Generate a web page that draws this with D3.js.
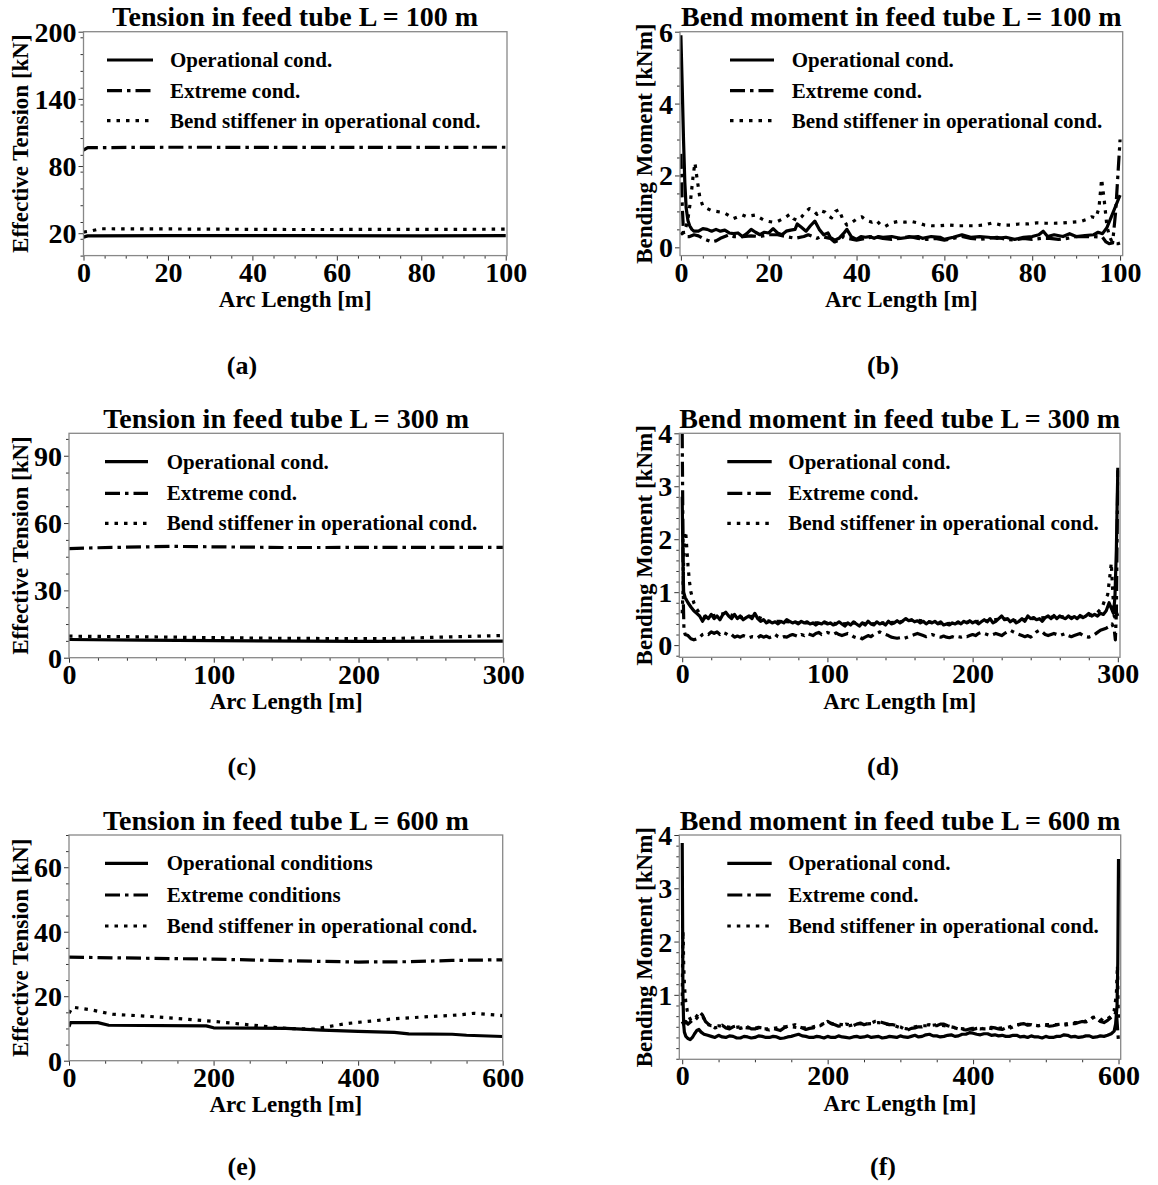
<!DOCTYPE html>
<html>
<head>
<meta charset="utf-8">
<script src="https://cdn.jsdelivr.net/npm/d3@7"></script>
<style>
  html, body { margin: 0; padding: 0; background: #fff; }
  svg { display: block; }
  text { font-family: "Liberation Serif", "Times New Roman", serif; font-weight: bold; fill: #000; }
</style>
</head>
<body>
<svg id="fig" width="1158" height="1185"></svg>
<script>
// ---------------- Tick labels ----------------
const arcTicks100 = [0, 20, 40, 60, 80, 100];
const arcTicks300 = [0, 100, 200, 300];
const arcTicks600 = [0, 200, 400, 600];
const tensionTicks100 = [20, 80, 140, 200];
const tensionTicks300 = [0, 30, 60, 90];
const tensionTicks600 = [0, 20, 40, 60];
const momentTicks100 = [0, 2, 4, 6];
const momentTicks300 = [0, 1, 2, 3, 4];
const momentTicks600 = [1, 2, 3, 4];

// ---------------- Legend entries ----------------
const legendShort = ["Operational cond.", "Extreme cond.", "Bend stiffener in operational cond."];
const legendLong = ["Operational conditions", "Extreme conditions", "Bend stiffener in operational cond."];

// ---------------- Effective tension, L = 100 m  [arc length m, kN] ----------------
const tension100Operational = [[0,16.5],[1,17.6],[20,17.9],[50,17.8],[80,17.7],[100,17.8]];
const tension100Extreme = [[0,94.3],[1,96.4],[20,96.8],[50,96.7],[80,96.7],[100,96.8]];
const tension100Stiffener = [[0,21],[2,22.2],[4,24],[20,23.8],[50,23.3],[80,23.4],[100,23.6]];

// ---------------- Effective tension, L = 300 m ----------------
const tension300Operational = [[0,8.1],[50,7.8],[100,7.6],[200,7.3],[300,7.4]];
const tension300Extreme = [[0,48.6],[20,49.0],[70,49.6],[150,49.1],[300,49.2]];
const tension300Stiffener = [[0,9.6],[50,9.3],[150,8.6],[220,8.5],[300,9.9]];

// ---------------- Effective tension, L = 600 m ----------------
const tension600Operational = [[0,10.5],[2,11.8],[40,11.8],[55,11.0],[190,10.8],[200,10.2],[300,10.0],[350,9.5],[400,9.1],[450,8.8],[470,8.3],[530,8.2],[550,7.9],[600,7.5]];
const tension600Extreme = [[0,32.1],[100,31.8],[200,31.5],[300,31.0],[400,30.6],[470,30.7],[530,31.1],[600,31.3]];
const tension600Stiffener = [[0,14.7],[5,16.6],[30,15.8],[60,14.4],[100,13.9],[150,13.1],[200,12.2],[250,11.1],[300,10.0],[340,9.8],[380,11.4],[400,11.9],[450,13.0],[500,13.7],[540,14.2],[560,14.7],[600,14.0]];

// ---------------- Bending moment, L = 100 m  [arc length m, kNm] ----------------
const moment100Operational = [[0,5.9],[0.3,4.5],[0.6,3.0],[0.9,1.8],[1.2,1.1],[1.6,0.75],[2,0.6],[2.5,0.5],[3,0.45],[4,0.45],[5,0.52],[6,0.5],[7,0.45],[8,0.5],[9,0.45],[10,0.48],[11,0.4],[12,0.38],[13,0.4],[14,0.3],[15,0.38],[16,0.5],[17,0.42],[18,0.35],[19,0.42],[20,0.4],[21,0.52],[22,0.4],[23,0.35],[24,0.45],[25,0.48],[26,0.5],[26.5,0.65],[27.5,0.55],[28.5,0.45],[29.5,0.6],[30.5,0.73],[31.5,0.5],[32.5,0.35],[33.5,0.4],[34,0.28],[35,0.2],[36,0.25],[37,0.38],[37.8,0.5],[38.8,0.3],[40,0.22],[41,0.3],[42,0.28],[43,0.3],[44,0.25],[45,0.3],[46,0.28],[48,0.3],[50,0.25],[52,0.28],[54,0.3],[55,0.25],[57,0.3],[59,0.28],[60,0.22],[62,0.28],[64,0.35],[66,0.28],[68,0.3],[70,0.28],[72,0.25],[74,0.28],[76,0.22],[78,0.28],[80,0.3],[81.5,0.35],[82.5,0.45],[83.5,0.3],[85,0.35],[87,0.3],[88.5,0.38],[90,0.3],[92,0.33],[94,0.35],[95,0.42],[96,0.38],[97,0.55],[98,0.85],[99,1.15],[100,1.45]];
const moment100Extreme = [[0,2.6],[0.3,1.2],[0.6,0.4],[1,0.3],[2,0.3],[3,0.35],[4,0.32],[5,0.25],[6,0.2],[7,0.15],[8,0.18],[9,0.25],[10,0.3],[11,0.35],[12,0.3],[14,0.3],[16,0.32],[18,0.3],[20,0.35],[22,0.35],[24,0.3],[26,0.25],[28,0.3],[29,0.35],[30,0.3],[31,0.25],[32,0.3],[34,0.25],[35,0.15],[36,0.2],[37,0.3],[38,0.25],[40,0.2],[42,0.25],[44,0.3],[46,0.25],[48,0.22],[50,0.25],[52,0.3],[54,0.25],[56,0.22],[58,0.25],[60,0.2],[62,0.25],[64,0.3],[66,0.25],[68,0.22],[70,0.25],[72,0.28],[74,0.22],[76,0.2],[78,0.25],[80,0.22],[82,0.25],[84,0.25],[86,0.22],[88,0.25],[90,0.3],[92,0.3],[94,0.3],[96,0.28],[96.8,0.15],[97.5,0.1],[98.3,0.12],[99,1.0],[99.5,2.0],[100,3.0]];
const moment100Stiffener = [[0,0.35],[0.8,0.45],[1.5,0.7],[2.2,1.3],[2.8,2.0],[3.2,2.35],[3.7,1.9],[4.3,1.4],[5,1.15],[6,1.08],[7,1.02],[8,1.0],[9,0.98],[10,0.95],[11,0.88],[12,0.8],[13,0.85],[14,0.9],[15,0.85],[16,0.88],[17,0.9],[18,0.82],[19,0.75],[20,0.72],[21,0.7],[22,0.72],[23,0.78],[24,0.85],[24.8,0.92],[25.6,0.8],[26.5,0.75],[27.5,0.85],[28.5,1.0],[29.3,1.08],[30.3,1.0],[31,0.92],[31.8,1.02],[32.8,0.98],[33.5,0.88],[34.3,0.82],[35.2,1.0],[36,1.05],[36.8,0.8],[37.8,0.62],[39,0.7],[40.2,0.8],[41.2,0.85],[42.2,0.75],[43.5,0.7],[44.5,0.75],[45.5,0.62],[46.5,0.58],[48,0.68],[49.5,0.72],[51,0.7],[52.5,0.72],[54,0.68],[55.5,0.62],[57,0.6],[59,0.6],[61,0.62],[63,0.6],[65,0.6],[67,0.6],[69,0.62],[71,0.68],[73,0.62],[75,0.62],[77,0.65],[79,0.65],[81,0.68],[83,0.67],[85,0.67],[87,0.68],[89,0.7],[91,0.72],[92.5,0.78],[93.5,0.85],[94.5,0.82],[95.2,1.1],[95.8,1.9],[96.4,1.3],[97,0.6],[97.6,0.3],[98.3,0.12],[99,0.1],[99.5,0.1],[100,0.12]];

// ---------------- Bending moment, L = 300 m ----------------
const moment300Operational = [[0,2.8],[0.5,1.6],[1,1.0],[2,0.9],[4,0.8],[6,0.72],[8,0.65],[10,0.6],[12,0.55],[14,0.45],[16,0.55],[18,0.5],[20,0.58],[22,0.5],[24,0.55],[26,0.48],[28,0.58],[30,0.62],[32,0.55],[34,0.5],[36,0.58],[38,0.5],[40,0.55],[42,0.48],[44,0.52],[46,0.55],[48,0.5],[50,0.6],[52,0.5],[54,0.45],[56,0.48],[58,0.42],[60,0.45],[62,0.42],[64,0.44],[66,0.4],[68,0.45],[70,0.42],[72,0.48],[74,0.45],[76,0.42],[78,0.44],[80,0.4],[82,0.45],[84,0.42],[86,0.44],[88,0.4],[90,0.42],[92,0.38],[94,0.42],[96,0.4],[98,0.44],[100,0.4],[102,0.42],[104,0.38],[106,0.4],[108,0.44],[110,0.4],[112,0.36],[114,0.42],[116,0.38],[118,0.44],[120,0.4],[122,0.36],[124,0.42],[126,0.38],[128,0.45],[130,0.4],[132,0.38],[134,0.44],[136,0.4],[138,0.42],[140,0.38],[142,0.45],[144,0.4],[146,0.42],[148,0.46],[150,0.42],[152,0.46],[154,0.5],[156,0.46],[158,0.48],[160,0.44],[162,0.46],[164,0.42],[166,0.45],[168,0.4],[170,0.44],[172,0.42],[174,0.45],[176,0.4],[178,0.44],[180,0.38],[182,0.4],[184,0.38],[186,0.42],[188,0.4],[190,0.44],[192,0.4],[194,0.45],[196,0.42],[198,0.46],[200,0.42],[202,0.45],[204,0.4],[206,0.44],[208,0.48],[210,0.44],[212,0.5],[214,0.42],[216,0.45],[218,0.5],[220,0.55],[222,0.48],[224,0.5],[226,0.44],[228,0.48],[230,0.42],[232,0.45],[234,0.5],[236,0.45],[238,0.55],[240,0.5],[242,0.52],[244,0.48],[246,0.5],[248,0.45],[250,0.52],[252,0.55],[254,0.5],[256,0.56],[258,0.5],[260,0.55],[262,0.52],[264,0.5],[266,0.55],[268,0.5],[270,0.54],[272,0.5],[274,0.56],[276,0.52],[278,0.55],[280,0.6],[282,0.55],[284,0.58],[286,0.55],[288,0.6],[290,0.58],[292,0.65],[294,0.8],[295.5,0.7],[297,0.6],[298,0.9],[299,1.8],[299.5,2.6],[300,3.3]];
const moment300Extreme = [[0,4.0],[0.4,2.5],[0.8,0.8],[1.2,0.3],[2,0.2],[4,0.18],[6,0.12],[8,0.1],[10,0.12],[12,0.15],[14,0.2],[16,0.22],[18,0.2],[20,0.25],[22,0.22],[24,0.25],[26,0.2],[28,0.24],[30,0.22],[32,0.18],[34,0.2],[36,0.15],[38,0.17],[40,0.15],[42,0.18],[44,0.16],[46,0.14],[48,0.16],[50,0.15],[52,0.14],[54,0.18],[56,0.15],[58,0.17],[60,0.14],[62,0.16],[64,0.2],[66,0.16],[68,0.14],[70,0.16],[72,0.15],[74,0.18],[76,0.2],[78,0.18],[80,0.16],[82,0.2],[84,0.18],[86,0.22],[88,0.2],[90,0.18],[92,0.22],[94,0.24],[96,0.2],[98,0.22],[100,0.24],[102,0.22],[104,0.2],[106,0.23],[108,0.2],[110,0.18],[112,0.2],[114,0.22],[116,0.2],[118,0.16],[120,0.14],[122,0.15],[124,0.12],[126,0.15],[128,0.18],[130,0.16],[132,0.2],[134,0.22],[136,0.25],[138,0.22],[140,0.2],[142,0.18],[144,0.15],[146,0.14],[148,0.13],[150,0.14],[152,0.12],[154,0.14],[156,0.16],[158,0.18],[160,0.2],[162,0.22],[164,0.2],[166,0.18],[168,0.16],[170,0.18],[172,0.2],[174,0.18],[176,0.16],[178,0.15],[180,0.17],[182,0.15],[184,0.14],[186,0.16],[188,0.14],[190,0.16],[192,0.15],[194,0.17],[196,0.16],[198,0.18],[200,0.2],[202,0.18],[204,0.22],[206,0.24],[208,0.22],[210,0.2],[212,0.18],[214,0.2],[216,0.22],[218,0.2],[220,0.18],[222,0.22],[224,0.25],[226,0.28],[228,0.25],[230,0.22],[232,0.2],[234,0.18],[236,0.16],[238,0.18],[240,0.15],[242,0.2],[244,0.25],[246,0.28],[248,0.25],[250,0.2],[252,0.18],[254,0.2],[256,0.22],[258,0.2],[260,0.18],[262,0.2],[264,0.22],[266,0.18],[268,0.16],[270,0.18],[272,0.2],[274,0.22],[276,0.18],[278,0.16],[280,0.15],[282,0.17],[284,0.2],[286,0.24],[288,0.28],[290,0.3],[292,0.32],[294,0.35],[296,0.4],[297.5,0.3],[298.3,0.1],[299,0.6],[299.5,2.0],[300,3.35]];
const moment300Stiffener = [[0,0.6],[0.5,1.0],[1,1.6],[1.5,2.05],[2,2.15],[2.5,2.1],[3,1.9],[4,1.5],[5,1.2],[6,1.0],[7,0.9],[8,0.8],[10,0.68],[12,0.6],[14,0.55],[16,0.52],[20,0.55],[30,0.6],[40,0.52],[50,0.55],[60,0.45],[70,0.45],[80,0.42],[90,0.42],[100,0.42],[110,0.4],[120,0.42],[130,0.4],[140,0.42],[150,0.44],[160,0.48],[170,0.44],[180,0.4],[190,0.42],[200,0.44],[210,0.46],[220,0.5],[230,0.46],[240,0.5],[250,0.52],[260,0.54],[270,0.52],[280,0.56],[286,0.62],[289,0.7],[291,0.85],[293,0.95],[294.5,1.3],[295.5,1.55],[296.5,1.0],[297.5,0.55],[298.5,0.5],[299.3,0.6],[300,0.55]];

// ---------------- Bending moment, L = 600 m ----------------
const moment600Operational = [[0,3.85],[0.5,2.5],[1,1.0],[2,0.45],[3,0.3],[5,0.22],[8,0.18],[11,0.16],[14,0.2],[17,0.27],[20,0.33],[23,0.35],[26,0.3],[30,0.26],[35,0.24],[40,0.22],[45,0.2],[50,0.24],[55,0.21],[60,0.2],[65,0.23],[70,0.22],[75,0.19],[80,0.19],[85,0.22],[90,0.21],[95,0.19],[100,0.2],[105,0.23],[110,0.22],[115,0.2],[120,0.2],[125,0.22],[130,0.21],[135,0.18],[140,0.19],[145,0.21],[150,0.22],[155,0.24],[160,0.26],[165,0.23],[170,0.22],[175,0.2],[180,0.2],[185,0.22],[190,0.21],[195,0.19],[200,0.22],[205,0.2],[210,0.2],[215,0.23],[220,0.21],[225,0.2],[230,0.19],[235,0.21],[240,0.22],[245,0.2],[250,0.21],[255,0.23],[260,0.2],[265,0.21],[270,0.22],[275,0.19],[280,0.2],[285,0.22],[290,0.21],[295,0.2],[300,0.23],[305,0.21],[310,0.2],[315,0.22],[320,0.24],[325,0.21],[330,0.22],[335,0.25],[340,0.26],[345,0.23],[350,0.23],[355,0.21],[360,0.22],[365,0.24],[370,0.25],[375,0.22],[380,0.23],[385,0.26],[390,0.26],[395,0.29],[400,0.28],[405,0.26],[410,0.25],[415,0.27],[420,0.27],[425,0.24],[430,0.25],[435,0.23],[440,0.24],[445,0.22],[450,0.22],[455,0.24],[460,0.24],[465,0.21],[470,0.22],[475,0.2],[480,0.23],[485,0.21],[490,0.21],[495,0.19],[500,0.22],[505,0.2],[510,0.2],[515,0.22],[520,0.22],[525,0.25],[530,0.24],[535,0.21],[540,0.22],[545,0.2],[550,0.21],[555,0.23],[560,0.23],[565,0.2],[570,0.21],[575,0.23],[580,0.22],[585,0.24],[590,0.27],[594,0.32],[596,0.45],[598,0.8],[599,1.6],[599.5,2.6],[600,3.55]];
const moment600Extreme = [[0,0.5],[2,0.45],[5,0.5],[8,0.45],[12,0.5],[16,0.55],[20,0.6],[24,0.68],[28,0.62],[32,0.5],[36,0.45],[40,0.42],[45,0.38],[50,0.4],[55,0.43],[60,0.38],[65,0.36],[70,0.4],[75,0.42],[80,0.37],[85,0.39],[90,0.4],[95,0.36],[100,0.36],[105,0.39],[110,0.38],[115,0.35],[120,0.34],[125,0.37],[130,0.35],[135,0.33],[140,0.38],[145,0.41],[150,0.42],[155,0.44],[160,0.4],[165,0.38],[170,0.35],[175,0.37],[180,0.38],[185,0.4],[190,0.42],[195,0.46],[200,0.5],[205,0.46],[210,0.44],[215,0.41],[220,0.42],[225,0.45],[230,0.44],[235,0.42],[240,0.45],[245,0.47],[250,0.44],[255,0.46],[260,0.47],[265,0.5],[270,0.5],[275,0.48],[280,0.46],[285,0.44],[290,0.44],[295,0.42],[300,0.4],[305,0.36],[310,0.34],[315,0.37],[320,0.38],[325,0.4],[330,0.4],[335,0.43],[340,0.44],[345,0.42],[350,0.42],[355,0.45],[360,0.45],[365,0.42],[370,0.4],[375,0.38],[380,0.36],[385,0.35],[390,0.34],[395,0.36],[400,0.35],[405,0.37],[410,0.38],[415,0.36],[420,0.36],[425,0.39],[430,0.38],[435,0.36],[440,0.35],[445,0.38],[450,0.37],[455,0.4],[460,0.42],[465,0.45],[470,0.46],[475,0.43],[480,0.44],[485,0.42],[490,0.42],[495,0.44],[500,0.43],[505,0.41],[510,0.42],[515,0.44],[520,0.45],[525,0.43],[530,0.44],[535,0.46],[540,0.46],[545,0.48],[550,0.5],[555,0.49],[560,0.52],[565,0.58],[570,0.55],[575,0.5],[580,0.48],[585,0.52],[590,0.58],[594,0.6],[597,0.7],[599,0.3],[600,0.12]];
const moment600Stiffener = [[0,0.8],[0.5,1.6],[1,2.2],[1.5,2.0],[2,1.6],[3,1.2],[4,1.0],[5,0.85],[7,0.7],[9,0.6],[12,0.52],[16,0.5],[20,0.56],[24,0.62],[28,0.6],[32,0.5],[36,0.44],[40,0.42],[50,0.42],[60,0.4],[70,0.38],[80,0.4],[90,0.38],[100,0.38],[110,0.36],[120,0.36],[130,0.38],[140,0.4],[150,0.4],[160,0.38],[170,0.38],[180,0.4],[190,0.44],[200,0.48],[210,0.45],[220,0.44],[230,0.42],[240,0.46],[250,0.45],[260,0.46],[270,0.48],[280,0.45],[290,0.43],[300,0.38],[310,0.36],[320,0.4],[330,0.42],[340,0.42],[350,0.44],[360,0.42],[370,0.4],[380,0.37],[390,0.36],[400,0.37],[410,0.36],[420,0.38],[430,0.36],[440,0.38],[450,0.4],[460,0.44],[470,0.45],[480,0.44],[490,0.42],[500,0.44],[510,0.44],[520,0.44],[530,0.46],[540,0.48],[550,0.48],[560,0.54],[570,0.6],[575,0.55],[580,0.5],[585,0.55],[590,0.6],[594,0.7],[597,1.0],[598.5,1.55],[599.5,0.8],[600,0.5]];

// ---------------- Line styles shared by every panel ----------------
const seriesStyles = [
  { dash: null },            // operational: solid
  { dash: "15,5,3.5,5" },    // extreme: dash-dot
  { dash: "3.5,6" }          // bend stiffener: dotted
];

// ---------------- Panel layout ----------------
const panels = [
  { title: "Tension in feed tube L = 100 m", yLabel: "Effective Tension [kN]", legend: legendShort,
    series: [tension100Operational, tension100Extreme, tension100Stiffener],
    xDomain: [0, 100.3], yDomain: [0, 200], xTicks: arcTicks100, yTicks: tensionTicks100, xMinor: 5, yMinor: 15,
    l: 83.5, r: 507, t: 31.7, b: 255.6, yLabelX: 28, legX1: 107, legX2: 153, legTx: 170, legY: [60, 90.7, 120.7],
    caption: "(a)", capX: 242, capY: 374 },
  { title: "Bend moment in feed tube L = 100 m", yLabel: "Bending Moment [kNm]", legend: legendShort,
    series: [moment100Operational, moment100Extreme, moment100Stiffener],
    xDomain: [-0.2, 100.6], yDomain: [-0.23, 6.0], xTicks: arcTicks100, yTicks: momentTicks100, xMinor: 5, yMinor: 0.5,
    l: 680, r: 1122.7, t: 31.7, b: 255.6, yLabelX: 652, legX1: 730, legX2: 774, legTx: 791.7, legY: [60, 90.7, 120.7],
    caption: "(b)", capX: 883, capY: 374 },
  { title: "Tension in feed tube L = 300 m", yLabel: "Effective Tension [kN]", legend: legendShort,
    series: [tension300Operational, tension300Extreme, tension300Stiffener],
    xDomain: [0, 300], yDomain: [0, 100], xTicks: arcTicks300, yTicks: tensionTicks300, xMinor: 20, yMinor: 7.5,
    l: 69, r: 503.3, t: 433.3, b: 657.7, yLabelX: 28, legX1: 105, legX2: 148, legTx: 166.7, legY: [461.7, 493.3, 523.3],
    caption: "(c)", capX: 242, capY: 775 },
  { title: "Bend moment in feed tube L = 300 m", yLabel: "Bending Moment [kNm]", legend: legendShort,
    series: [moment300Operational, moment300Extreme, moment300Stiffener],
    xDomain: [-2, 301.5], yDomain: [-0.23, 4.0], xTicks: arcTicks300, yTicks: momentTicks300, xMinor: 20, yMinor: 0.2,
    l: 679.3, r: 1120, t: 433.3, b: 657.3, yLabelX: 652, legX1: 727.3, legX2: 771.7, legTx: 788.3, legY: [461.7, 493.3, 523.3],
    caption: "(d)", capX: 883, capY: 775 },
  { title: "Tension in feed tube L = 600 m", yLabel: "Effective Tension [kN]", legend: legendLong,
    series: [tension600Operational, tension600Extreme, tension600Stiffener],
    xDomain: [0, 600], yDomain: [0, 70], xTicks: arcTicks600, yTicks: tensionTicks600, xMinor: 50, yMinor: 5,
    l: 69, r: 502.7, t: 835, b: 1060.7, yLabelX: 28, legX1: 105, legX2: 148, legTx: 166.7, legY: [863.3, 895, 926],
    caption: "(e)", capX: 242, capY: 1175 },
  { title: "Bend moment in feed tube L = 600 m", yLabel: "Bending Moment [kNm]", legend: legendShort,
    series: [moment600Operational, moment600Extreme, moment600Stiffener],
    xDomain: [-4, 603], yDomain: [-0.21, 4.0], xTicks: arcTicks600, yTicks: momentTicks600, xMinor: 50, yMinor: 0.2,
    l: 679.3, r: 1120.7, t: 835, b: 1059.3, yLabelX: 652, legX1: 727.3, legX2: 771.7, legTx: 788.3, legY: [863.3, 895, 926],
    caption: "(f)", capX: 883, capY: 1175 }
];

const svg = d3.select("#fig");
const LW = 3.2;

// minor tick positions: every multiple of step inside the domain, skipping the majors
function minorValues(domain, step, majors) {
  const out = [];
  const k0 = Math.ceil(domain[0] / step - 1e-9), k1 = Math.floor(domain[1] / step + 1e-9);
  for (let k = k0; k <= k1; k++) {
    const v = +(k * step).toFixed(6);
    if (!majors.some(m => Math.abs(m - v) < step * 1e-3)) out.push(v);
  }
  return out;
}

panels.forEach((p, i) => {
  const x = d3.scaleLinear().domain(p.xDomain).range([p.l, p.r]);
  const y = d3.scaleLinear().domain(p.yDomain).range([p.b, p.t]);
  const g = svg.append("g");

  const clipId = "clip" + i;
  svg.append("clipPath").attr("id", clipId)
    .append("rect").attr("x", p.l).attr("y", p.t).attr("width", p.r - p.l).attr("height", p.b - p.t);

  // data curves
  const line = d3.line().x(d => x(d[0])).y(d => y(d[1]));
  const curves = g.append("g").attr("clip-path", `url(#${clipId})`);
  p.series.forEach((s, si) => {
    curves.append("path").datum(s)
      .attr("d", line)
      .attr("fill", "none")
      .attr("stroke", "#000")
      .attr("stroke-width", LW)
      .attr("stroke-linejoin", "round")
      .attr("stroke-dasharray", seriesStyles[si].dash);
  });

  // axes: outward major ticks with labels, minor ticks without
  const xAxis = d3.axisBottom(x).tickValues(p.xTicks).tickSize(5).tickPadding(2).tickFormat(d3.format("d"));
  const xAxisMinor = d3.axisBottom(x).tickValues(minorValues(p.xDomain, p.xMinor, p.xTicks)).tickSize(3).tickFormat("");
  const yAxis = d3.axisLeft(y).tickValues(p.yTicks).tickSize(5).tickPadding(2).tickFormat(d3.format("d"));
  const yAxisMinor = d3.axisLeft(y).tickValues(minorValues(p.yDomain, p.yMinor, p.yTicks)).tickSize(3).tickFormat("");

  [xAxisMinor, xAxis].forEach(ax => {
    const a = g.append("g").attr("transform", `translate(0,${p.b})`).call(ax);
    a.select(".domain").remove();
    a.selectAll(".tick line").attr("stroke", "#333").attr("stroke-width", 1);
    a.selectAll(".tick text").attr("font-size", 28).attr("font-family", "Liberation Serif, serif")
      .attr("font-weight", "bold").attr("fill", "#000").attr("dy", "0.68em");
  });
  [yAxisMinor, yAxis].forEach(ax => {
    const a = g.append("g").attr("transform", `translate(${p.l},0)`).call(ax);
    a.select(".domain").remove();
    a.selectAll(".tick line").attr("stroke", "#333").attr("stroke-width", 1);
    a.selectAll(".tick text").attr("font-size", 28).attr("font-family", "Liberation Serif, serif")
      .attr("font-weight", "bold").attr("fill", "#000").attr("dy", "0.34em");
  });

  // frame
  g.append("rect").attr("x", p.l).attr("y", p.t).attr("width", p.r - p.l).attr("height", p.b - p.t)
    .attr("fill", "none").attr("stroke", "#888").attr("stroke-width", 1.3);

  // title and axis labels
  g.append("text").attr("x", (p.l + p.r) / 2).attr("y", p.t - 5.5)
    .attr("text-anchor", "middle").attr("font-size", 28).text(p.title);
  g.append("text").attr("x", (p.l + p.r) / 2).attr("y", p.b + 51.5)
    .attr("text-anchor", "middle").attr("font-size", 23).text("Arc Length [m]");
  g.append("text")
    .attr("transform", `translate(${p.yLabelX},${(p.t + p.b) / 2}) rotate(-90)`)
    .attr("text-anchor", "middle").attr("font-size", 23).text(p.yLabel);

  // legend
  p.legend.forEach((label, li) => {
    const ly = p.legY[li];
    g.append("line").attr("x1", p.legX1).attr("x2", p.legX2).attr("y1", ly).attr("y2", ly)
      .attr("stroke", "#000").attr("stroke-width", LW)
      .attr("stroke-dasharray", seriesStyles[li].dash);
    g.append("text").attr("x", p.legTx).attr("y", ly).attr("dy", "0.33em")
      .attr("font-size", 21).text(label);
  });

  // sub-caption
  g.append("text").attr("x", p.capX).attr("y", p.capY)
    .attr("text-anchor", "middle").attr("font-size", 26).text(p.caption);
});
</script>
</body>
</html>
